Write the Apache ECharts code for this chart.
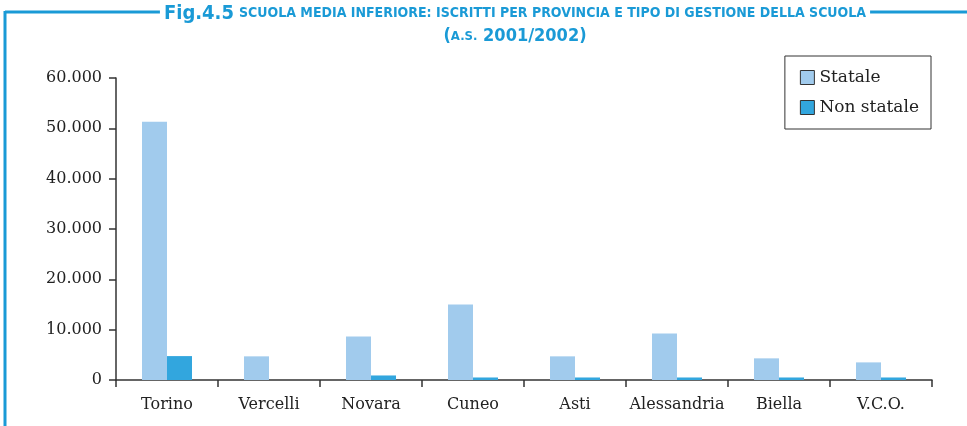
<!DOCTYPE html>
<html>
<head>
<meta charset="utf-8">
<script src="https://cdn.jsdelivr.net/npm/echarts@6/dist/echarts.min.js"></script>
<style>
html, body { margin: 0; padding: 0; background: #fff; }
#container { width: 967px; height: 426px; }
</style>
</head>
<body>
<div id="container"></div>
<script>
var province = ['Torino', 'Vercelli', 'Novara', 'Cuneo', 'Asti', 'Alessandria', 'Biella', 'V.C.O.'];
var statale = [51300, 4700, 8650, 15000, 4700, 9250, 4300, 3500];
var nonStatale = [4750, 0, 900, 500, 500, 500, 500, 500];
var yTicks = [0, 10000, 20000, 30000, 40000, 50000, 60000];

var dom = document.getElementById("container");
var myChart = echarts.init(dom);
var blu = '#1a9ad6';

function fmt(v) {
    return String(v).replace(/\B(?=(\d{3})+(?!\d))/g, '.');
}

var option = {
    animation: false,
    title: {
        text: '{big|Fig.4.5} {sm|SCUOLA MEDIA INFERIORE: ISCRITTI PER PROVINCIA E TIPO DI GESTIONE DELLA SCUOLA}\n{sm2|(}{xs|A.S.}{sm2| 2001/2002)}',
        left: 511,
        top: 2,
        textAlign: 'center',
        backgroundColor: '#fff',
        padding: [0, 4],
        textStyle: {
            rich: {
                big: { fontFamily: 'DejaVu Sans Condensed', fontWeight: 'bold', fontSize: 20, color: blu, lineHeight: 23 },
                sm: { fontFamily: 'DejaVu Sans Condensed', fontWeight: 'bold', fontSize: 14, color: blu, lineHeight: 23 },
                sm2: { fontFamily: 'DejaVu Sans Condensed', fontWeight: 'bold', fontSize: 18, color: blu, lineHeight: 23 },
                xs: { fontFamily: 'DejaVu Sans Condensed', fontWeight: 'bold', fontSize: 13, color: blu, lineHeight: 23 }
            }
        },
        z: 10
    },
    graphic: [
        { type: 'line', shape: { x1: 5, y1: 12, x2: 967, y2: 12 }, style: { stroke: blu, lineWidth: 3 }, z: 1 },
        { type: 'line', shape: { x1: 5, y1: 11, x2: 5, y2: 426 }, style: { stroke: blu, lineWidth: 3 }, z: 1 }
    ],
    legend: {
        orient: 'vertical',
        right: 36,
        top: 56,
        data: ['Statale', 'Non statale'],
        borderColor: '#333',
        borderWidth: 1,
        padding: [13, 12, 13, 15],
        itemGap: 13,
        itemWidth: 14,
        itemHeight: 14,
        icon: 'rect',
        itemStyle: { borderColor: '#333', borderWidth: 1 },
        textStyle: { fontFamily: 'DejaVu Serif', fontSize: 17, color: '#222' }
    },
    grid: {
        left: 116,
        right: 35,
        top: 78,
        bottom: 46
    },
    xAxis: {
        type: 'category',
        data: province,
        axisLine: { lineStyle: { color: '#333', width: 1.5 } },
        axisTick: { show: true, interval: 0, length: 7, lineStyle: { color: '#333', width: 1.5 } },
        axisLabel: { interval: 0, fontFamily: 'DejaVu Serif', fontSize: 16, color: '#222', margin: 17 }
    },
    yAxis: {
        type: 'value',
        min: yTicks[0],
        max: yTicks[yTicks.length - 1],
        interval: 10000,
        splitLine: { show: false },
        axisLine: { show: true, lineStyle: { color: '#333', width: 1.5 } },
        axisTick: { show: true, length: 7, lineStyle: { color: '#333', width: 1.5 } },
        axisLabel: { fontFamily: 'DejaVu Serif', fontSize: 16, color: '#222', margin: 14, formatter: fmt }
    },
    series: [
        {
            name: 'Statale',
            type: 'bar',
            data: statale,
            barWidth: 25,
            barGap: '0%',
            itemStyle: { color: '#a1cbed' }
        },
        {
            name: 'Non statale',
            type: 'bar',
            data: nonStatale,
            barWidth: 25,
            itemStyle: { color: '#32a6de' }
        }
    ]
};

myChart.setOption(option, true);
</script>
</body>
</html>
